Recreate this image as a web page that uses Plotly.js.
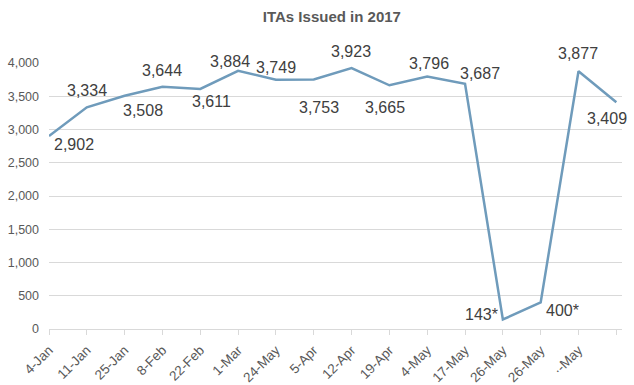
<!DOCTYPE html>
<html>
<head>
<meta charset="utf-8">
<script src="https://cdn.plot.ly/plotly-3.0.1.min.js"></script>
<style>html,body{margin:0;padding:0;background:#fff;}#chart{width:634px;height:385px;}</style>
</head>
<body>
<div id="chart"></div>
<script>
// Data
const tickLabels = ['4-Jan','11-Jan','25-Jan','8-Feb','22-Feb','1-Mar','24-May','5-Apr','12-Apr','19-Apr','4-May','17-May','26-May','26-May','·-May',''];
const itasIssued = [2902, 3334, 3508, 3644, 3611, 3884, 3749, 3753, 3923, 3665, 3796, 3687, 143, 400, 3877, 3409];
const labelNotes = ['', '', '', '', '', '', '', '', '', '', '', '', '*', '*', '', ''];
const yTickVals = [0, 500, 1000, 1500, 2000, 2500, 3000, 3500, 4000];

// Label placement offsets (pixels) relative to each point
const labelShiftX = [25, 0, 18, 0, 11, -8, 0, 5, -1, -4, 2, 15, -21, 22, -1, -9];
const labelShiftY = [-8, 17, -15, 16, -13, 9, 12, -28, 17, -22, 13, 10, 5, -8, 18, -16];

const xIdx = itasIssued.map((_, i) => i);

const trace = {
  x: xIdx,
  y: itasIssued,
  type: 'scatter',
  mode: 'lines',
  line: {color: '#6f9bbb', width: 2.5},
  hoverinfo: 'skip'
};

const annotations = itasIssued.map((v, i) => ({
  x: i, y: v, xref: 'x', yref: 'y',
  text: v.toLocaleString('en-US') + labelNotes[i],
  showarrow: false,
  xanchor: 'center', yanchor: 'middle',
  xshift: labelShiftX[i], yshift: labelShiftY[i],
  font: {family: 'Liberation Sans, Arial, sans-serif', size: 16, color: '#404040'}
}));

const layout = {
  width: 634, height: 385,
  margin: {l: 49, r: 12, t: 63, b: 56, pad: 0},
  paper_bgcolor: '#ffffff', plot_bgcolor: '#ffffff',
  showlegend: false,
  title: {
    text: '<b>ITAs Issued in 2017</b>',
    x: 313/634, xanchor: 'center', xref: 'paper',
    y: 1 - 17/385, yanchor: 'middle', yref: 'container',
    font: {family: 'Liberation Sans, Arial, sans-serif', size: 15, color: '#595959'}
  },
  xaxis: {
    range: [0, 15.15],
    tickmode: 'array', tickvals: xIdx, ticktext: tickLabels,
    tickangle: -45,
    showgrid: false, zeroline: false,
    showline: true, linecolor: '#d9d9d9', linewidth: 1,
    ticks: 'outside', ticklen: 5, tickcolor: '#d9d9d9',
    ticklabelstandoff: 2,
    tickfont: {family: 'Liberation Sans, Arial, sans-serif', size: 13.5, color: '#595959'}
  },
  yaxis: {
    range: [0, 4000.5],
    tickmode: 'array', tickvals: yTickVals,
    ticktext: yTickVals.map(v => v.toLocaleString('en-US')),
    showgrid: true, gridcolor: '#d9d9d9', gridwidth: 1,
    zeroline: false, showline: false, ticks: '',
    ticklabelstandoff: 9,
    tickfont: {family: 'Liberation Sans, Arial, sans-serif', size: 12.5, color: '#595959'}
  },
  annotations: annotations
};

Plotly.newPlot('chart', [trace], layout, {displayModeBar: false, staticPlot: true});
</script>
</body>
</html>
